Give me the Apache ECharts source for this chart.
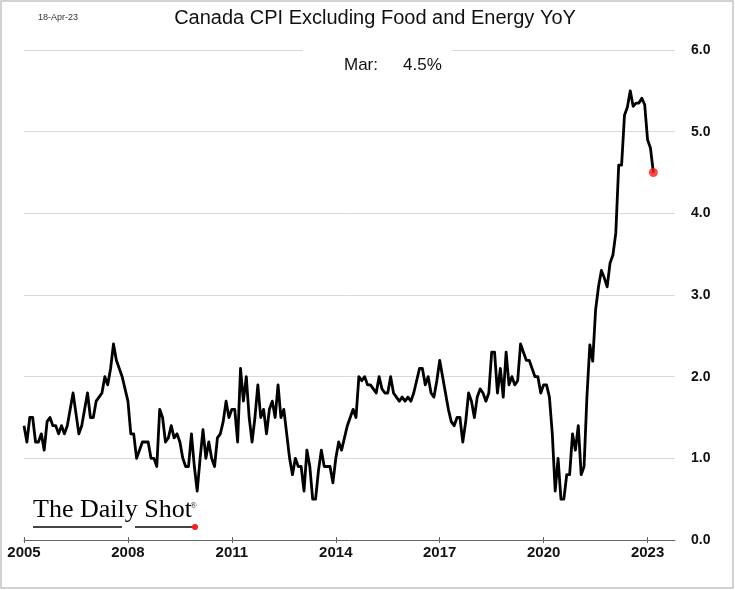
<!DOCTYPE html>
<html><head><meta charset="utf-8">
<script src="https://cdn.jsdelivr.net/npm/echarts@6/dist/echarts.min.js"></script>
<style>html,body{margin:0;padding:0;background:#fff}#c{width:735px;height:590px}</style>
</head><body><div id="c"></div>
<script>
// Canada CPI excluding food and energy, YoY %, monthly from Jan 2005
const startYear = 2005;
const monthNames = ['Jan','Feb','Mar','Apr','May','Jun','Jul','Aug','Sep','Oct','Nov','Dec'];
const v2005 = [1.4, 1.2, 1.5, 1.5, 1.2, 1.2, 1.3, 1.1, 1.45, 1.5, 1.4, 1.4];
const v2006 = [1.3, 1.4, 1.3, 1.4, 1.6, 1.8, 1.55, 1.3, 1.4, 1.6, 1.8, 1.5];
const v2007 = [1.5, 1.7, 1.75, 1.8, 2.0, 1.9, 2.1, 2.4, 2.2, 2.1, 2.0, 1.85];
const v2008 = [1.7, 1.3, 1.3, 1.0, 1.1, 1.2, 1.2, 1.2, 1.0, 1.0, 0.9, 1.6];
const v2009 = [1.5, 1.2, 1.25, 1.4, 1.25, 1.3, 1.2, 1.0, 0.9, 0.9, 1.3, 0.9];
const v2010 = [0.6, 1.0, 1.35, 1.0, 1.2, 1.0, 0.9, 1.25, 1.3, 1.45, 1.7, 1.5];
const v2011 = [1.6, 1.6, 1.2, 2.1, 1.7, 2.0, 1.5, 1.2, 1.5, 1.9, 1.5, 1.6];
const v2012 = [1.3, 1.6, 1.7, 1.5, 1.9, 1.5, 1.6, 1.3, 1.0, 0.8, 1.0, 0.9];
const v2013 = [0.9, 0.6, 1.1, 0.9, 0.5, 0.5, 0.85, 1.1, 0.9, 0.9, 0.9, 0.7];
const v2014 = [1.0, 1.2, 1.1, 1.25, 1.4, 1.5, 1.6, 1.5, 2.0, 1.95, 2.0, 1.9];
const v2015 = [1.9, 1.85, 1.8, 2.0, 1.85, 1.8, 1.8, 2.0, 1.8, 1.75, 1.7, 1.75];
const v2016 = [1.7, 1.75, 1.7, 1.8, 1.95, 2.1, 2.1, 1.9, 2.0, 1.8, 1.75, 1.95];
const v2017 = [2.2, 2.0, 1.8, 1.6, 1.45, 1.4, 1.5, 1.5, 1.2, 1.45, 1.8, 1.7];
const v2018 = [1.5, 1.75, 1.85, 1.8, 1.7, 1.8, 2.3, 2.3, 1.8, 2.1, 1.75, 2.3];
const v2019 = [1.9, 2.0, 1.9, 1.95, 2.4, 2.3, 2.2, 2.2, 2.1, 2.0, 2.0, 1.8];
const v2020 = [1.9, 1.9, 1.75, 1.3, 0.6, 1.0, 0.5, 0.5, 0.8, 0.8, 1.3, 1.1];
const v2021 = [1.4, 0.8, 0.9, 1.76, 2.39, 2.19, 2.82, 3.1, 3.3, 3.21, 3.1, 3.39];
const v2022 = [3.49, 3.76, 4.59, 4.59, 5.2, 5.3, 5.5, 5.31, 5.35, 5.35, 5.41, 5.33];
const v2023 = [4.9, 4.8, 4.5];
const tickYears = [2005, 2008, 2011, 2014, 2017, 2020, 2023];
const yTicks = [0, 1, 2, 3, 4, 5, 6];
const chartTitle = 'Canada CPI Excluding Food and Energy YoY';
const dateStamp = '18-Apr-23';

const years = [v2005,v2006,v2007,v2008,v2009,v2010,v2011,v2012,v2013,v2014,v2015,v2016,v2017,v2018,v2019,v2020,v2021,v2022,v2023];
const seriesData = [];
years.forEach((arr, yi) => arr.forEach((v, mi) => seriesData.push([yi * 12 + mi, v])));
const last = seriesData[seriesData.length - 1];
const lastMonthText = monthNames[last[0] % 12] + ':';
const lastValueText = last[1].toFixed(1) + '%';
const tickMonths = tickYears.map(y => (y - startYear) * 12);

const chart = echarts.init(document.getElementById('c'), null, {renderer: 'canvas'});
const labelFont = '"Liberation Sans", Arial, sans-serif';
chart.setOption({
  animation: false,
  backgroundColor: '#ffffff',
  grid: {left: 24, right: 60, top: 50, bottom: 50, containLabel: false},
  xAxis: [{
    type: 'value', min: 0, max: 225.5,
    axisLine: {show: true, lineStyle: {color: '#666', width: 1}},
    axisTick: {show: true, length: 3, lineStyle: {color: '#666'}, customValues: tickMonths},
    axisLabel: {show: true, customValues: tickMonths, margin: 5,
      formatter: v => String(startYear + Math.round(v / 12)),
      color: '#111', fontWeight: 'bold', fontSize: 15, fontFamily: labelFont},
    splitLine: {show: false}
  }, {
    type: 'value', min: 0, max: 225.5, position: 'bottom',
    axisLine: {show: false},
    axisTick: {show: true, inside: true, length: 3, lineStyle: {color: '#666'}, customValues: tickMonths},
    axisLabel: {show: false},
    splitLine: {show: false}
  }],
  yAxis: {
    type: 'value', position: 'right', min: yTicks[0], max: yTicks[yTicks.length - 1], interval: 1,
    axisLine: {show: false}, axisTick: {show: false},
    axisLabel: {formatter: v => v.toFixed(1), margin: 16, color: '#111', fontWeight: 'bold', fontSize: 14, fontFamily: labelFont},
    splitLine: {show: true, lineStyle: {color: '#d9d9d9', width: 1}}
  },
  series: [{
    type: 'line', data: seriesData, showSymbol: false, symbol: 'none',
    lineStyle: {color: '#000', width: 2.8, join: 'round'}, z: 3
  }, {
    type: 'scatter', data: [last], symbol: 'circle', symbolSize: 9,
    itemStyle: {color: '#ff1a1a'}, z: 4
  }],
  graphic: [
    {type: 'rect', shape: {x: 1, y: 1, width: 732, height: 587}, style: {fill: 'none', stroke: '#c4c4c4', lineWidth: 1.5}, z: 100},
    {type: 'text', x: 38, y: 18, style: {text: dateStamp, fontSize: 9, fill: '#333', fontFamily: labelFont, textVerticalAlign: 'middle'}, z: 100},
    {type: 'text', x: 375, y: 18, style: {text: chartTitle, fontSize: 20, fill: '#111', fontFamily: labelFont, textAlign: 'center', textVerticalAlign: 'middle'}, z: 100},
    {type: 'rect', shape: {x: 303, y: 43, width: 149, height: 14}, style: {fill: '#fff'}, z: 100},
    {type: 'text', x: 344, y: 65, style: {text: lastMonthText, fontSize: 17, fill: '#111', fontFamily: labelFont, textVerticalAlign: 'middle'}, z: 101},
    {type: 'text', x: 403, y: 65, style: {text: lastValueText, fontSize: 17, fill: '#111', fontFamily: labelFont, textVerticalAlign: 'middle'}, z: 101},
    {type: 'text', x: 33, y: 523, style: {text: 'The Daily Shot', fontSize: 26, fill: '#000', fontFamily: '"Liberation Serif", "DejaVu Serif", serif', textVerticalAlign: 'bottom'}, z: 100},
    {type: 'text', x: 190, y: 506, style: {text: '®', fontSize: 9, fill: '#1a1a1a', fontFamily: '"Liberation Serif", serif', textVerticalAlign: 'middle'}, z: 100},
    {type: 'line', shape: {x1: 33, y1: 527, x2: 122, y2: 527}, style: {stroke: '#444', lineWidth: 2}, z: 100},
    {type: 'line', shape: {x1: 135, y1: 527, x2: 193, y2: 527}, style: {stroke: '#444', lineWidth: 2}, z: 100},
    {type: 'circle', shape: {cx: 195, cy: 527, r: 3}, style: {fill: '#ff1a1a'}, z: 100}
  ]
});
</script></body></html>
